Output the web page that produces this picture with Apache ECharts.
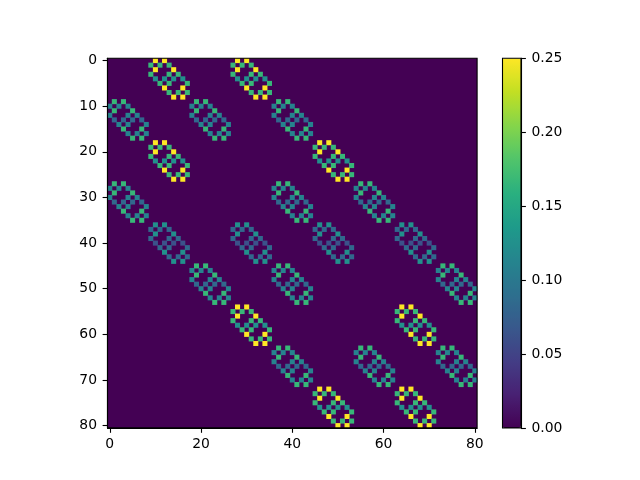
<!DOCTYPE html>
<html>
<head>
<meta charset="utf-8">
<style>html,body{margin:0;padding:0;background:#fff}#c{width:640px;height:480px}</style>
<script src="https://cdn.jsdelivr.net/npm/echarts@6/dist/echarts.min.js"></script>
</head>
<body>
<div id="c"></div>
<script>
// Matrix size, one category per row/column
var matrixSize = 81;
var xTickLabels = ['0', '20', '40', '60', '80'];
var yTickLabels = ['0', '10', '20', '30', '40', '50', '60', '70', '80'];
var colorbarTicks = [0, 0.05, 0.10, 0.15, 0.20, 0.25];

// Columns holding a non-zero cell, listed for each of the rows 0..80
var rowColumns = [
  [10,12,28,30],[9,11,13,27,29,31],[10,14,28,32],[9,13,15,27,31,33],[10,12,14,16,28,30,32,34],[11,13,17,29,31,35],[12,16,30,34],[13,15,17,31,33,35],[14,16,32,34],
  [1,3,19,21,37,39],[0,2,4,18,20,22,36,38,40],[1,5,19,23,37,41],[0,4,6,18,22,24,36,40,42],[1,3,5,7,19,21,23,25,37,39,41,43],[2,4,8,20,22,26,38,40,44],[3,7,21,25,39,43],[4,6,8,22,24,26,40,42,44],[5,7,23,25,41,43],
  [10,12,46,48],[9,11,13,45,47,49],[10,14,46,50],[9,13,15,45,49,51],[10,12,14,16,46,48,50,52],[11,13,17,47,49,53],[12,16,48,52],[13,15,17,49,51,53],[14,16,50,52],
  [1,3,37,39,55,57],[0,2,4,36,38,40,54,56,58],[1,5,37,41,55,59],[0,4,6,36,40,42,54,58,60],[1,3,5,7,37,39,41,43,55,57,59,61],[2,4,8,38,40,44,56,58,62],[3,7,39,43,57,61],[4,6,8,40,42,44,58,60,62],[5,7,41,43,59,61],
  [10,12,28,30,46,48,64,66],[9,11,13,27,29,31,45,47,49,63,65,67],[10,14,28,32,46,50,64,68],[9,13,15,27,31,33,45,49,51,63,67,69],[10,12,14,16,28,30,32,34,46,48,50,52,64,66,68,70],[11,13,17,29,31,35,47,49,53,65,67,71],[12,16,30,34,48,52,66,70],[13,15,17,31,33,35,49,51,53,67,69,71],[14,16,32,34,50,52,68,70],
  [19,21,37,39,73,75],[18,20,22,36,38,40,72,74,76],[19,23,37,41,73,77],[18,22,24,36,40,42,72,76,78],[19,21,23,25,37,39,41,43,73,75,77,79],[20,22,26,38,40,44,74,76,80],[21,25,39,43,75,79],[22,24,26,40,42,44,76,78,80],[23,25,41,43,77,79],
  [28,30,64,66],[27,29,31,63,65,67],[28,32,64,68],[27,31,33,63,67,69],[28,30,32,34,64,66,68,70],[29,31,35,65,67,71],[30,34,66,70],[31,33,35,67,69,71],[32,34,68,70],
  [37,39,55,57,73,75],[36,38,40,54,56,58,72,74,76],[37,41,55,59,73,77],[36,40,42,54,58,60,72,76,78],[37,39,41,43,55,57,59,61,73,75,77,79],[38,40,44,56,58,62,74,76,80],[39,43,57,61,75,79],[40,42,44,58,60,62,76,78,80],[41,43,59,61,77,79],
  [46,48,64,66],[45,47,49,63,65,67],[46,50,64,68],[45,49,51,63,67,69],[46,48,50,52,64,66,68,70],[47,49,53,65,67,71],[48,52,66,70],[49,51,53,67,69,71],[50,52,68,70]
];

// Value shared by the non-zero cells of each row
var rowValues = [
  0.25,0.1667,0.25,0.1667,0.125,0.1667,0.25,0.1667,0.25,
  0.1667,0.1111,0.1667,0.1111,0.0833,0.1111,0.1667,0.1111,0.1667,
  0.25,0.1667,0.25,0.1667,0.125,0.1667,0.25,0.1667,0.25,
  0.1667,0.1111,0.1667,0.1111,0.0833,0.1111,0.1667,0.1111,0.1667,
  0.125,0.0833,0.125,0.0833,0.0625,0.0833,0.125,0.0833,0.125,
  0.1667,0.1111,0.1667,0.1111,0.0833,0.1111,0.1667,0.1111,0.1667,
  0.25,0.1667,0.25,0.1667,0.125,0.1667,0.25,0.1667,0.25,
  0.1667,0.1111,0.1667,0.1111,0.0833,0.1111,0.1667,0.1111,0.1667,
  0.25,0.1667,0.25,0.1667,0.125,0.1667,0.25,0.1667,0.25
];

var viridis = ['#440154','#482173','#433e85','#38598c','#2d708e','#25858e','#1e9b8a','#2ab07f','#51c56a','#85d54a','#c2df23','#fde725'];
var zeroColor = viridis[0];

var categories = [];
for (var n = 0; n < matrixSize; n++) categories.push(String(n));

// Zero cells are the plot background; the listed cells are drawn as heatmap marks.
var cells = [];
for (var r = 0; r < matrixSize; r++) {
  for (var k = 0; k < rowColumns[r].length; k++) {
    cells.push([rowColumns[r][k], r, rowValues[r]]);
  }
}

var FONT = 'DejaVu Sans';
var FS = 13.9;
var BOX = { left: 107.5, top: 58.3, size: 369.6 };
var BAR = { left: 502.5, width: 18.5 };

function tickFilter(list) {
  return function (index, value) { return list.indexOf(String(value)) >= 0; };
}
var lineStyle = { color: '#000', width: 1.1 };

var chart = echarts.init(document.getElementById('c'), null, { renderer: 'canvas', width: 640, height: 480 });
chart.setOption({
  animation: false,
  backgroundColor: '#fff',
  tooltip: { show: false },
  grid: [
    { left: BOX.left, top: BOX.top, width: BOX.size, height: BOX.size, show: true, z: 0,
      backgroundColor: zeroColor, borderWidth: 0 },
    { left: BAR.left, top: BOX.top, width: BAR.width, height: BOX.size, show: true, z: 6,
      backgroundColor: 'transparent', borderColor: '#000', borderWidth: 1.1 },
    { left: BOX.left, top: BOX.top, width: BOX.size, height: BOX.size, show: true, z: 6,
      backgroundColor: 'transparent', borderColor: '#000', borderWidth: 1.1 }
  ],
  xAxis: [
    { type: 'category', gridIndex: 0, data: categories, position: 'bottom', boundaryGap: true, z: 7,
      axisLine: { show: true, onZero: false, lineStyle: lineStyle },
      axisTick: { show: true, alignWithLabel: true, length: 4.9, interval: tickFilter(xTickLabels), lineStyle: lineStyle },
      axisLabel: { show: true, interval: tickFilter(xTickLabels), margin: 9, color: '#000', fontFamily: FONT, fontSize: FS },
      splitLine: { show: false }, splitArea: { show: false } },
    { type: 'value', gridIndex: 1, min: 0, max: 1, show: false }
  ],
  yAxis: [
    { type: 'category', gridIndex: 0, data: categories, inverse: true, position: 'left', boundaryGap: true, z: 7,
      axisLine: { show: true, onZero: false, lineStyle: lineStyle },
      axisTick: { show: true, alignWithLabel: true, length: 4.9, interval: tickFilter(yTickLabels), lineStyle: lineStyle },
      axisLabel: { show: true, interval: tickFilter(yTickLabels), margin: 10.5, padding: [2, 0, 0, 0], color: '#000', fontFamily: FONT, fontSize: FS },
      splitLine: { show: false }, splitArea: { show: false } },
    { type: 'value', gridIndex: 1, min: colorbarTicks[0], max: colorbarTicks[colorbarTicks.length - 1], interval: 0.05, position: 'right', z: 7,
      axisLine: { show: true, onZero: false, lineStyle: lineStyle },
      axisTick: { show: true, length: 4.9, lineStyle: lineStyle },
      axisLabel: { show: true, margin: 10.5, padding: [2, 0, 0, 0], color: '#000', fontFamily: FONT, fontSize: FS,
        formatter: function (v) { return v.toFixed(2); } },
      splitLine: { show: false } }
  ],
  visualMap: {
    type: 'continuous', min: 0, max: 0.25, seriesIndex: 0, calculable: false, hoverLink: false, realtime: false,
    orient: 'vertical', left: BAR.left, top: BOX.top, itemWidth: BAR.width, itemHeight: BOX.size,
    padding: 0, text: ['', ''], textGap: 0, showLabel: false,
    inRange: { color: viridis }
  },
  series: [{
    type: 'heatmap', xAxisIndex: 0, yAxisIndex: 0, data: cells, silent: true, progressive: 0,
    itemStyle: { borderWidth: 0 }, emphasis: { disabled: true }
  }]
});
</script>
</body>
</html>
